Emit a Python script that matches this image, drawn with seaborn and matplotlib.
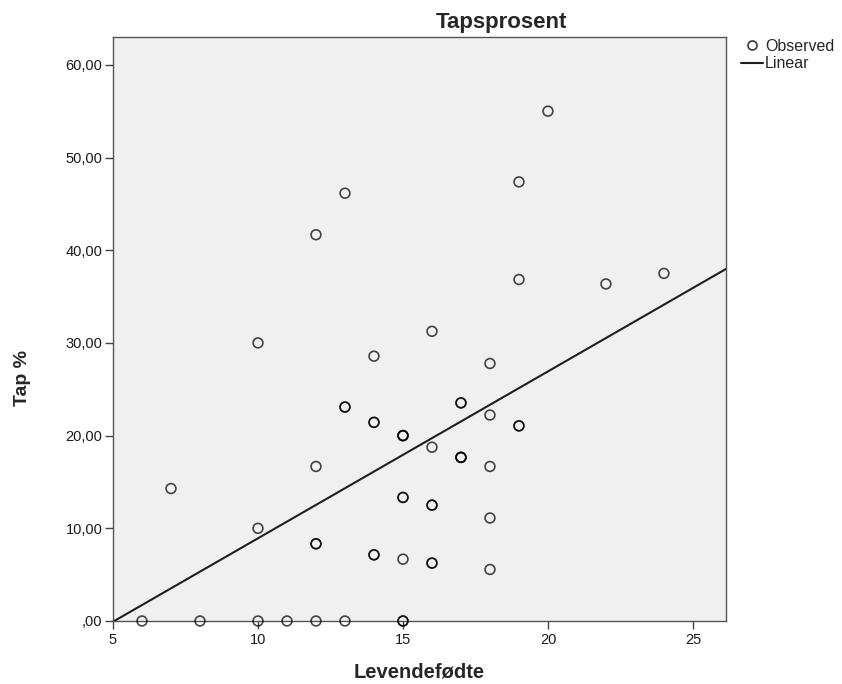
import matplotlib
matplotlib.use("Agg")
import matplotlib.pyplot as plt
from matplotlib.ticker import FuncFormatter, FixedLocator
from matplotlib.lines import Line2D
import seaborn as sns
import pandas as pd

# Live births per litter and loss percentage (repeated values kept as separate rows)
levendefodte = [6, 7, 8,
                10, 10, 10,
                11,
                12, 12, 12, 12, 12,
                13, 13, 13, 13,
                14, 14, 14, 14, 14,
                15, 15, 15, 15, 15, 15, 15, 15,
                16, 16, 16, 16, 16, 16,
                17, 17, 17, 17, 17,
                18, 18, 18, 18, 18,
                19, 19, 19, 19,
                20, 22, 24]
tap_prosent = [0.0, 14.29, 0.0,
               0.0, 10.0, 30.0,
               0.0,
               0.0, 8.33, 8.33, 16.67, 41.67,
               0.0, 23.08, 23.08, 46.15,
               7.14, 7.14, 21.43, 21.43, 28.57,
               0.0, 0.0, 6.67, 13.33, 13.33, 20.0, 20.0, 20.0,
               6.25, 6.25, 12.5, 12.5, 18.75, 31.25,
               17.65, 17.65, 17.65, 23.53, 23.53,
               5.56, 11.11, 16.67, 22.22, 27.78,
               21.05, 21.05, 36.84, 47.37,
               55.0, 36.36, 37.5]

x_ticks = [5, 10, 15, 20, 25]
y_ticks = [0, 10, 20, 30, 40, 50, 60]

df = pd.DataFrame({"Levendefødte": levendefodte, "Tap %": tap_prosent})

sns.set_style("white")
plt.rcParams["font.family"] = ["Liberation Sans", "DejaVu Sans"]

W, H = 842, 684
fig = plt.figure(figsize=(W / 100, H / 100), dpi=100)
ax = fig.add_axes([113 / W, 1 - 621 / H, (726 - 113) / W, (621 - 37) / H])
ax.set_facecolor("#f0f0f0")

x_lim = (5, 26.14)
y_lim = (0, 63.0)
ax.set_xlim(*x_lim)
ax.set_ylim(*y_lim)

sns.scatterplot(data=df, x="Levendefødte", y="Tap %", ax=ax,
                marker="o", s=50, facecolors="none", edgecolor="black",
                alpha=0.72, linewidth=1.2, clip_on=False, zorder=3)
sns.regplot(data=df, x="Levendefødte", y="Tap %", ax=ax, scatter=False,
            ci=None, truncate=False,
            line_kws={"color": "#1e1e1e", "linewidth": 1.5, "zorder": 4})

ax.set_xlim(*x_lim)
ax.set_ylim(*y_lim)

def komma(v, pos):
    return ",00" if abs(v) < 1e-9 else f"{v:.2f}".replace(".", ",")

ax.xaxis.set_major_locator(FixedLocator(x_ticks))
ax.yaxis.set_major_locator(FixedLocator(y_ticks))
ax.yaxis.set_major_formatter(FuncFormatter(komma))
ax.tick_params(axis="both", which="major", direction="out", length=5.5,
               width=1, color="#444444", labelsize=10.5, labelcolor="#1a1a1a",
               bottom=True, left=True, top=False, right=False)
ax.tick_params(axis="x", pad=3.5)
ax.tick_params(axis="y", pad=2)

for sp in ax.spines.values():
    sp.set_visible(True)
    sp.set_color("#555555")
    sp.set_linewidth(1.0)

ax.set_xlabel("Levendefødte", fontsize=14.5, fontweight="bold")
ax.xaxis.set_label_coords(0.5, (621 - 663) / 584)
ax.set_ylabel("Tap %", fontsize=14, fontweight="bold")
ax.yaxis.set_label_coords((31 - 113) / 613, (621 - 378) / 584)

fig.text(501 / W, 1 - 28 / H, "Tapsprosent", ha="center", va="baseline",
         fontsize=16, fontweight="bold")

handles = [
    Line2D([], [], linestyle="none", marker="o", markersize=6.5,
           markerfacecolor="none", markeredgecolor="#3a3a3a", markeredgewidth=1.2),
    Line2D([], [], color="#1e1e1e", linewidth=1.5),
]
fig.legend(handles, ["Observed", "Linear"], loc="upper left",
           bbox_to_anchor=(741 / W, 1 - 39 / H), frameon=False,
           fontsize=11.5, handlelength=1.35, handletextpad=0.15,
           labelspacing=0.15, borderpad=0, borderaxespad=0)

fig.savefig("out.png", dpi=100)
